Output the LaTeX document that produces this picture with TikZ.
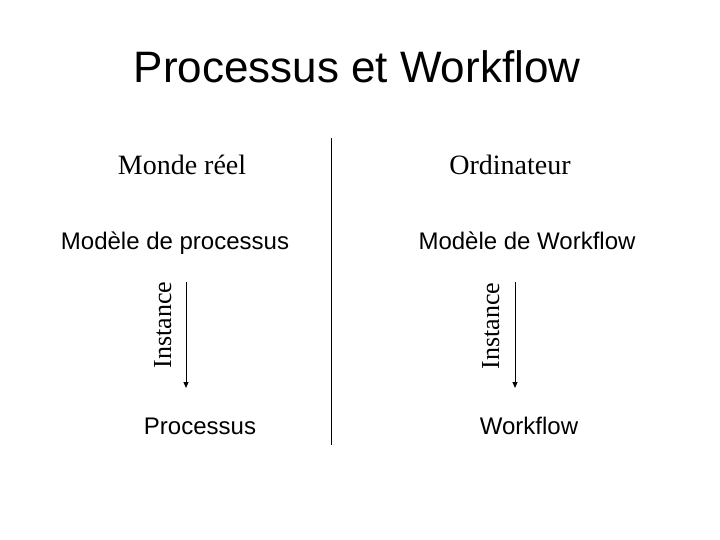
\documentclass[tikz,border=0pt]{standalone}
\usepackage{fontspec}
\setmainfont{Liberation Serif}
\setsansfont{Liberation Sans}
\usepackage{tikz}
\usetikzlibrary{arrows.meta,positioning}

\begin{document}
\begin{tikzpicture}[x=1pt,y=-1pt,>={Triangle[length=6pt,width=5pt]},
  ttl/.style={anchor=base,font=\sffamily\fontsize{44}{50}\selectfont},
  side/.style={anchor=base,font=\rmfamily\fontsize{28}{32}\selectfont},
  mdl/.style={anchor=base,font=\sffamily\fontsize{24}{28}\selectfont},
  inst/.style={anchor=base,rotate=90,font=\rmfamily\fontsize{26}{30}\selectfont},
  ln/.style={line width=1pt}]
  \useasboundingbox (0,0) rectangle (720,540);
  % title
  \node[ttl] (title) at (357,83) {Processus et Workflow};
  % the two sides
  \node[side] (real) at (182,175) {Monde réel};
  \node[side] (comp) at (510,175) {Ordinateur};
  \coordinate (divtop) at (331,138);
  \coordinate (divbot) at (331,445);
  \draw[ln] (divtop) -- (divbot);
  % models
  \node[mdl] (pmodel) at (175,249) {Modèle de processus};
  \node[mdl] (wmodel) at (527,249) {Modèle de Workflow};
  % instances
  \node[mdl] (proc) at (200,434) {Processus};
  \node[mdl] (wf) at (529,434) {Workflow};
  \coordinate (ltop) at (186,282);
  \coordinate (lbot) at (186,388);
  \coordinate (rtop) at (515,282);
  \coordinate (rbot) at (515,388);
  \draw[ln,->] (ltop) -- (lbot);
  \draw[ln,->] (rtop) -- (rbot);
  \node[inst] (linst) at (171,325) {Instance};
  \node[inst] (rinst) at (499,326) {Instance};
\end{tikzpicture}
\end{document}
